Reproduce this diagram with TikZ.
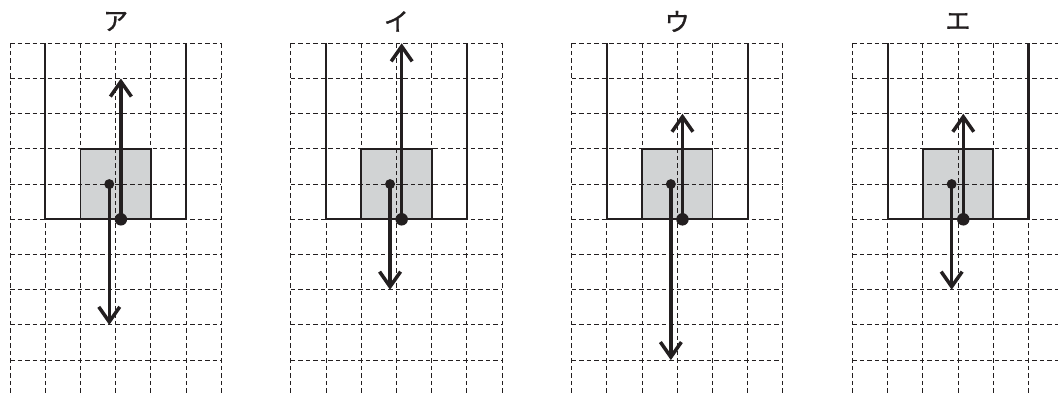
\documentclass[tikz,border=0pt]{standalone}
\usepackage{fontspec}
\newfontfamily\jpfont[FakeBold=1.2]{Noto Sans CJK JP}
\usetikzlibrary{arrows.meta}
\definecolor{ink}{HTML}{231F20}
\definecolor{blockgray}{HTML}{D1D3D4}
\tikzset{
 gridline/.style={ink, line width=1pt, dash pattern=on 4.5pt off 3pt},
 wall/.style={ink, line width=2.2pt},
 blockedge/.style={draw=ink, line width=1.8pt},
 force/.style={ink, line width=3.5pt, -{Straight Barb[length=15pt,width=21pt]}},
 smalldot/.style={circle, fill=ink, inner sep=0pt, minimum size=10pt},
 bigdot/.style={circle, fill=ink, inner sep=0pt, minimum size=12.5pt},
 panellabel/.style={font=\jpfont\fontsize{25}{30}\selectfont, text=ink},
}
\begin{document}
\begin{tikzpicture}[x=1pt,y=-1pt]
\useasboundingbox (0,0) rectangle (1058,394);
\clip (0,0) rectangle (1058,394);
\foreach \k/\lab/\up/\down in {0/ア/4/4, 1/イ/5/3, 2/ウ/3/5, 3/エ/3/3} {
  \begin{scope}[shift={(10+280.8*\k,43.3)}, x=35.2pt, y=-35.2pt]
    \fill[blockgray] (2,3) rectangle (4,5);
    \foreach \i in {0,...,6} \draw[gridline] (\i,0) -- (\i,10.5);
    \foreach \j in {0,...,10} \draw[gridline] (0,\j) -- (6,\j);
    \draw[blockedge] (2,5) -- (2,3) -- (4,3) -- (4,5);
    \draw[wall] (1,0) -- (1,5) -- (5,5) -- (5,0);
    \node[panellabel] (l\k) at (3,-0.62) {\lab};
    \node[bigdot] (b\k) at (3.15,5) {};
    \node[smalldot] (s\k) at (2.82,4) {};
    \coordinate (u\k) at (3.15,5-\up);
    \coordinate (d\k) at (2.82,4+\down);
    \draw[force] (b\k.center) -- (u\k);
    \draw[force] (s\k.center) -- (d\k);
  \end{scope}
}
\end{tikzpicture}
\end{document}
